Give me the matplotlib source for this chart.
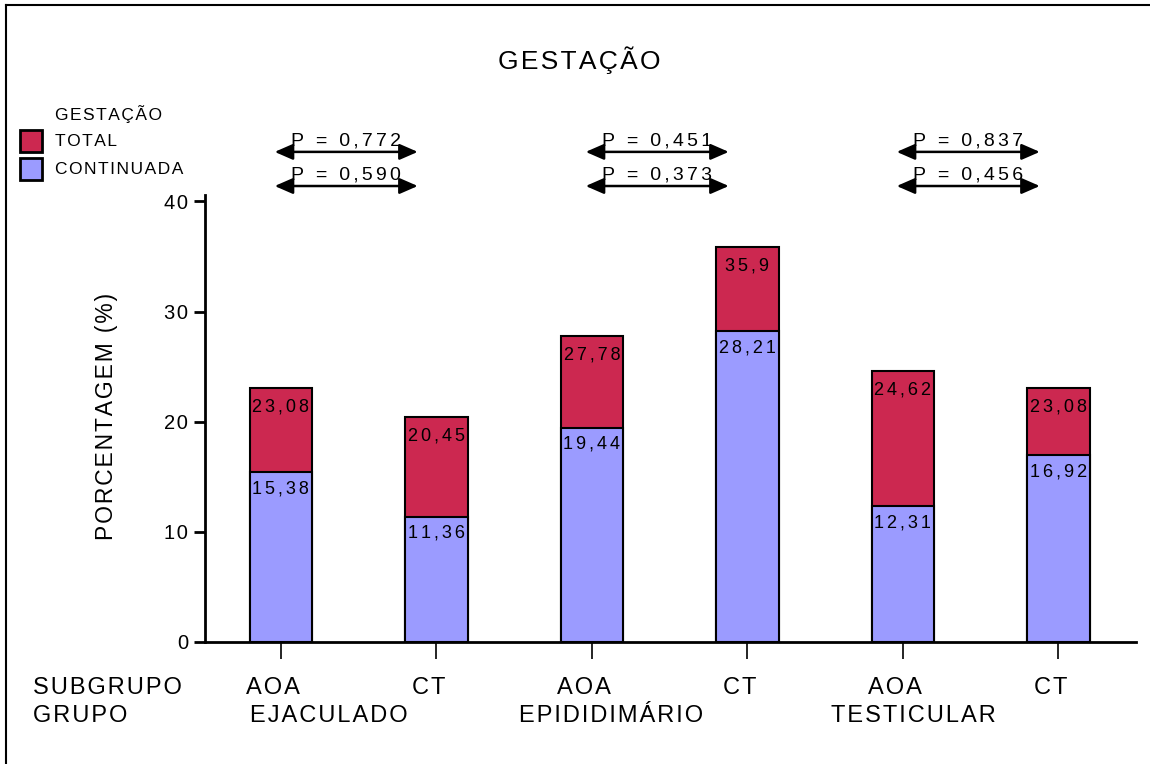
import numpy as np
import matplotlib.pyplot as plt
from matplotlib.patches import Rectangle
from matplotlib.lines import Line2D
import matplotlib.transforms as mtransforms

plt.rcParams['font.family'] = ['Liberation Sans', 'DejaVu Sans']

# data
subgrupos = ['AOA', 'CT', 'AOA', 'CT', 'AOA', 'CT']
grupos = ['EJACULADO', 'EPIDIDIMÁRIO', 'TESTICULAR']
total = [23.08, 20.45, 27.78, 35.9, 24.62, 23.08]
continuada = [15.38, 11.36, 19.44, 28.21, 12.31, 16.92]
p_total = ['0,772', '0,451', '0,837']
p_continuada = ['0,590', '0,373', '0,456']

RED = '#CC2850'
BLUE = '#9B9BFF'

HAIR = '\u200a'
HAIR2 = HAIR * 2


def fmt(v):
    s = ('%.2f' % v).rstrip('0').rstrip('.')
    return s.replace('.', ',')


def track(s, sp=HAIR):
    # widen letter spacing
    return sp.join(s)


def main():
    fig = plt.figure(figsize=(11.5, 7.64), dpi=100)
    ax = fig.add_axes([0.178, 0.160, 0.810, 0.585])

    x = np.arange(len(total))
    w = 0.4
    ax.bar(x, total, w, color=RED, edgecolor='black', linewidth=1.5, zorder=2)
    ax.bar(x, continuada, w, color=BLUE, edgecolor='black', linewidth=1.5, zorder=3)

    # value labels just under the top of each bar
    for xi, t, c in zip(x, total, continuada):
        ax.annotate(track(fmt(t), HAIR2), (xi, t), xytext=(0, -14), textcoords='offset points',
                    ha='center', va='center', fontsize=13, zorder=4)
        ax.annotate(track(fmt(c), HAIR2), (xi, c), xytext=(0, -12), textcoords='offset points',
                    ha='center', va='center', fontsize=13, zorder=4)

    ax.set_xlim(-0.49, 5.5)
    ax.set_ylim(0, 40.6)
    ax.set_yticks([0, 10, 20, 30, 40])
    ax.set_yticklabels([track(str(v)) for v in [0, 10, 20, 30, 40]])
    ax.set_xticks(x)
    ax.set_xticklabels([])
    for s in ['top', 'right']:
        ax.spines[s].set_visible(False)
    for s in ['left', 'bottom']:
        ax.spines[s].set_linewidth(2)
    ax.tick_params(axis='y', length=8, width=2, labelsize=14.5, pad=4)
    ax.tick_params(axis='x', length=12, width=1.2)

    # p-value arrows over each pair of bars
    for g in range(3):
        x0 = 2 * g - 0.04
        x1 = 2 * g + 0.88
        for yv, p in [(44.5, p_total[g]), (41.4, p_continuada[g])]:
            ax.annotate('', xy=(x0, yv), xytext=(x1, yv), annotation_clip=False,
                        arrowprops=dict(arrowstyle='<|-|>,head_length=0.55,head_width=0.24',
                                        mutation_scale=20, color='black', lw=1.8,
                                        shrinkA=0, shrinkB=0))
            ax.text((x0 + x1) / 2, yv + 0.2, track('P = ' + p, HAIR2), ha='center',
                    va='bottom', fontsize=14, clip_on=False)

    # category labels below the axis
    trans = mtransforms.blended_transform_factory(ax.transData, fig.transFigure)
    for xi, s in zip(x, subgrupos):
        ax.text(xi - 0.05, 0.0995, track(s), transform=trans, ha='center', va='center', fontsize=17)
    for xg, g in zip([0.31, 2.12, 4.07], grupos):
        ax.text(xg, 0.0628, track(g), transform=trans, ha='center', va='center', fontsize=17)
    fig.text(0.029, 0.0995, track('SUBGRUPO'), ha='left', va='center', fontsize=17)
    fig.text(0.029, 0.0628, track('GRUPO'), ha='left', va='center', fontsize=17)

    fig.text(0.504, 0.921, track('GESTAÇÃO'), ha='center', va='center', fontsize=19)
    fig.text(0.093, 0.455, track('PORCENTAGEM (%)'), rotation=90, ha='center', va='center',
             fontsize=16.5)

    # legend
    fig.text(0.048, 0.851, track('GESTAÇÃO'), ha='left', va='center', fontsize=12.5)
    for yb, col, lab in [(0.801, RED, 'TOTAL'), (0.764, BLUE, 'CONTINUADA')]:
        fig.patches.append(Rectangle((0.0174, yb), 0.0191, 0.0288, transform=fig.transFigure,
                                     facecolor=col, edgecolor='black', linewidth=2))
        fig.text(0.048, yb + 0.0144, track(lab), ha='left', va='center', fontsize=12.5)

    # frame lines
    fig.lines.append(Line2D([0.0055, 0.0055], [0, 0.993], transform=fig.transFigure,
                            color='black', linewidth=1.5))
    fig.lines.append(Line2D([0.0055, 1], [0.993, 0.993], transform=fig.transFigure,
                            color='black', linewidth=1.5))

    fig.savefig('out.png', dpi=100)


if __name__ == '__main__':
    main()
